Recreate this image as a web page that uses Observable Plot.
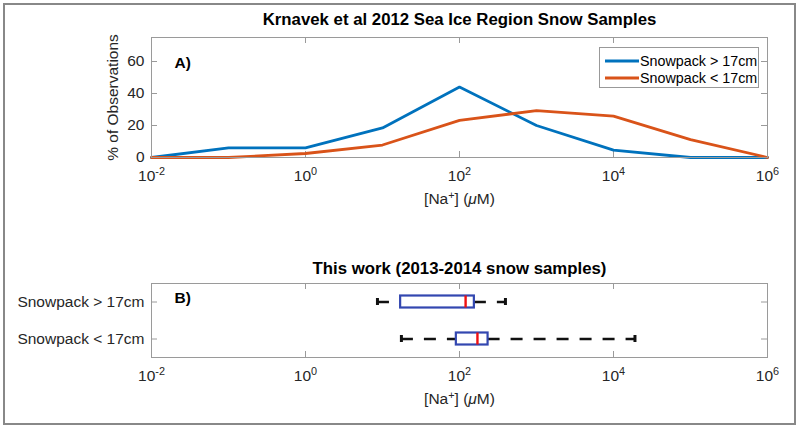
<!DOCTYPE html>
<html><head><meta charset="utf-8">
<script src="https://cdn.jsdelivr.net/npm/d3@7"></script>
<script src="https://cdn.jsdelivr.net/npm/@observablehq/plot@0.6"></script>
<style>
body{margin:0;background:#fff;}
#wrap{position:relative;width:800px;height:429px;overflow:hidden;font-family:"Liberation Sans",Arial,sans-serif;background:#fff;}
#border{position:absolute;left:3px;top:3px;width:793px;height:422px;border:2px solid #888;box-sizing:border-box;}
.panel{position:absolute;left:0;}
#legend{position:absolute;left:599px;top:47px;width:160px;height:41px;border:1px solid #999;box-sizing:border-box;background:#fff;font-size:14.3px;color:#000;}
#legend .row{position:absolute;left:4px;height:16px;display:flex;align-items:center;}
#legend .row span{margin-left:1px;white-space:nowrap;}
</style></head><body><div id="wrap"><div id="border"></div></div>
<script>
// ---- Panel A data (Krnavek et al 2012) ----
const naConc = [0.01, 0.1, 1, 10, 100, 1000, 10000, 100000, 1000000];
const deepSnow = [0, 6, 6, 18.5, 44, 20, 4.6, 0, 0];
const shallowSnow = [0, 0, 2.5, 7.8, 23.2, 29.3, 25.9, 11.2, 0];
const seriesNames = ["Snowpack > 17cm", "Snowpack < 17cm"];
const seriesColors = ["#0072BD", "#D95319"];
const xTicks = [1e-2, 1, 1e2, 1e4, 1e6];
const yTicks = [0, 20, 40, 60];
// ---- Panel B data (this work, box plot statistics) ----
const boxLabels = ["Snowpack > 17cm", "Snowpack < 17cm"];
const boxLow = [8.6, 17.6];
const boxQ1 = [17.2, 91];
const boxMedian = [120, 171];
const boxQ3 = [156, 235];
const boxHigh = [395, 19000];

const titleA = "Krnavek et al 2012 Sea Ice Region Snow Samples";
const titleB = "This work (2013-2014 snow samples)";
const yLabelA = "% of Observations";
const xLabel = "[Na^{+}] (μM)";

const W = 800, ML = 151, MR = 33;
const innerW = W - ML - MR;
const axisGray = "#9a9a9a", textGray = "#262626";
const FS = 15.5, TFS = 16.8, tickLen = 6;
const fmt = d => `10^{${Math.round(Math.log10(d))}}`;

function richify(svg) {
  d3.select(svg).selectAll("text").each(function () {
    const s = this.textContent;
    if (!/\^\{|μ/.test(s)) return;
    const parts = s.split(/(\^\{[^}]*\}|μ)/).filter(p => p !== "");
    const el = d3.select(this);
    el.text(null);
    let shifted = false;
    for (const p of parts) {
      const m = p.match(/^\^\{([^}]*)\}$/);
      if (m) {
        el.append("tspan").attr("dy", "-0.55em").attr("font-size", "0.7em").text(m[1]);
        shifted = true;
      } else {
        const t = el.append("tspan").text(p);
        if (p === "μ") t.attr("font-style", "italic");
        if (shifted) { t.attr("dy", "0.385em"); shifted = false; }
      }
    }
  });
}

// ---------------- Panel A ----------------
const lineRows = [];
naConc.forEach((x, i) => {
  lineRows.push({x, y: deepSnow[i], s: seriesNames[0]});
  lineRows.push({x, y: shallowSnow[i], s: seriesNames[1]});
});
const H1 = 215, MT1 = 37, MB1 = H1 - 157;
const innerH1 = H1 - MT1 - MB1;
const plotA = Plot.plot({
  width: W, height: H1, marginLeft: ML, marginRight: MR, marginTop: MT1, marginBottom: MB1,
  style: {fontFamily: "'Liberation Sans', Arial, sans-serif", fontSize: FS + "px", color: textGray, background: "transparent", overflow: "visible"},
  x: {type: "log", domain: [1e-2, 1e6], label: null},
  y: {domain: [0, 75], label: null},
  color: {domain: seriesNames, range: seriesColors},
  marks: [
    Plot.ruleX(xTicks, {x: d => d, insetTop: innerH1 - tickLen, stroke: axisGray}),
    Plot.ruleX(xTicks, {x: d => d, insetBottom: innerH1 - tickLen, stroke: axisGray}),
    Plot.ruleY(yTicks, {y: d => d, insetRight: innerW - tickLen, stroke: axisGray}),
    Plot.ruleY(yTicks, {y: d => d, insetLeft: innerW - tickLen, stroke: axisGray}),
    Plot.line(lineRows, {x: "x", y: "y", z: "s", stroke: "s", strokeWidth: 2.8, strokeLinejoin: "miter"}),
    Plot.frame({stroke: axisGray}),
    Plot.axisX(xTicks, {tickSize: 0, tickPadding: 12, tickFormat: fmt, fill: textGray, label: null}),
    Plot.axisY(yTicks, {tickSize: 0, tickPadding: 7, fill: textGray, label: null}),
    Plot.text([titleA], {text: d => d, frameAnchor: "top", dy: -18, lineAnchor: "middle", fontWeight: "bold", fontSize: TFS, fill: "#000"}),
    Plot.text([yLabelA], {text: d => d, frameAnchor: "left", dx: -38, rotate: -90, textAnchor: "middle", lineAnchor: "middle", fill: textGray}),
    Plot.text([xLabel], {text: d => d, frameAnchor: "bottom", dy: 42, lineAnchor: "middle", fill: textGray}),
    Plot.text(["A)"], {text: d => d, frameAnchor: "top-left", dx: 23, dy: 26, textAnchor: "start", lineAnchor: "middle", fontWeight: "bold", fill: "#000"})
  ]
});
richify(plotA);
plotA.classList.add("panel");
plotA.style.top = "0px";
document.getElementById("wrap").appendChild(plotA);

// ---------------- Panel B ----------------
const boxRows = boxLabels.map((label, i) => ({label, lo: boxLow[i], q1: boxQ1[i], med: boxMedian[i], q3: boxQ3[i], hi: boxHigh[i]}));
const TOP2 = 215, H2 = 214, MT2 = 68, MB2 = 72;
const innerH2 = H2 - MT2 - MB2;
const boxBlue = "#3347b0";
const plotB = Plot.plot({
  width: W, height: H2, marginLeft: ML, marginRight: MR, marginTop: MT2, marginBottom: MB2,
  style: {fontFamily: "'Liberation Sans', Arial, sans-serif", fontSize: FS + "px", color: textGray, background: "transparent", overflow: "visible"},
  x: {type: "log", domain: [1e-2, 1e6], label: null},
  y: {type: "band", domain: boxLabels, padding: 0, label: null},
  marks: [
    Plot.ruleX(xTicks, {x: d => d, insetTop: innerH2 - tickLen, stroke: axisGray}),
    Plot.ruleX(xTicks, {x: d => d, insetBottom: innerH2 - tickLen, stroke: axisGray}),
    Plot.ruleY(boxLabels, {y: d => d, insetRight: innerW - tickLen, stroke: axisGray}),
    Plot.ruleY(boxLabels, {y: d => d, insetLeft: innerW - tickLen, stroke: axisGray}),
    Plot.ruleY(boxRows, {y: "label", x1: "lo", x2: "q1", stroke: "#111", strokeWidth: 2.6, strokeDasharray: "12,11"}),
    Plot.ruleY(boxRows, {y: "label", x1: "q3", x2: "hi", stroke: "#111", strokeWidth: 2.6, strokeDasharray: "12,11"}),
    Plot.tickX(boxRows, {y: "label", x: "lo", stroke: "#111", strokeWidth: 3, insetTop: 15, insetBottom: 15}),
    Plot.tickX(boxRows, {y: "label", x: "hi", stroke: "#111", strokeWidth: 3, insetTop: 15, insetBottom: 15}),
    Plot.barX(boxRows, {y: "label", x1: "q1", x2: "q3", fill: "#fff", stroke: boxBlue, strokeWidth: 2.2, insetTop: 12.5, insetBottom: 12.5}),
    Plot.tickX(boxRows, {y: "label", x: "med", stroke: "#f01010", strokeWidth: 2.4, insetTop: 12.5, insetBottom: 12.5}),
    Plot.frame({stroke: axisGray}),
    Plot.axisX(xTicks, {tickSize: 0, tickPadding: 12, tickFormat: fmt, fill: textGray, label: null}),
    Plot.axisY({tickSize: 0, tickPadding: 7, fill: textGray, label: null}),
    Plot.text([titleB], {text: d => d, frameAnchor: "top", dy: -15, lineAnchor: "middle", fontWeight: "bold", fontSize: TFS, fill: "#000"}),
    Plot.text([xLabel], {text: d => d, frameAnchor: "bottom", dy: 42, lineAnchor: "middle", fill: textGray}),
    Plot.text(["B)"], {text: d => d, frameAnchor: "top-left", dx: 23, dy: 15, textAnchor: "start", lineAnchor: "middle", fontWeight: "bold", fill: "#000"})
  ]
});
richify(plotB);
plotB.classList.add("panel");
plotB.style.top = TOP2 + "px";
document.getElementById("wrap").appendChild(plotB);

// ---------------- Legend (panel A) ----------------
const legend = document.createElement("div");
legend.id = "legend";
seriesNames.forEach((name, i) => {
  const row = document.createElement("div");
  row.className = "row";
  row.style.top = (i === 0 ? 4.5 : 21.5) + "px";
  row.innerHTML = `<svg width="35" height="16"><line x1="1" x2="35" y1="8" y2="8" stroke="${seriesColors[i]}" stroke-width="2.8"/></svg><span>${name.replace(">", "&gt;").replace("<", "&lt;")}</span>`;
  legend.appendChild(row);
});
document.getElementById("wrap").appendChild(legend);
</script></body></html>
